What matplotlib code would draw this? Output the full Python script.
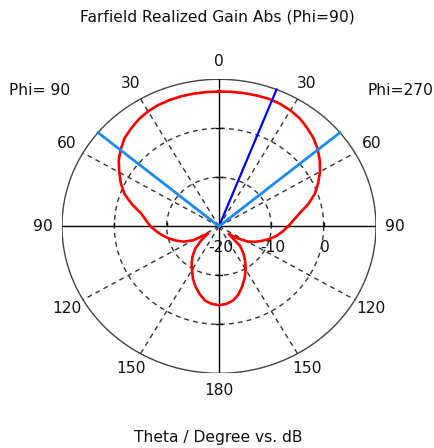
"""
Farfield realized gain cut (Phi=90 / Phi=270) drawn as a CST-style polar plot.
Output: out.png
"""

import numpy as np
import matplotlib
matplotlib.use("Agg")
import matplotlib.pyplot as plt

R_MIN = -20.0   # dB at the centre
R_MAX = 10.0    # dB at the outer circle
RINGS = [-10, 0]

# theta (deg) and gain (dB)
theta_deg = [0, 5, 10, 15, 20, 25, 30, 35, 40, 45, 50, 55, 60, 65, 70, 75, 80,
             85, 90, 95, 100, 105, 110, 115, 120, 125, 130, 135, 140, 145, 150,
             155, 160, 165, 170, 175, 180]
gain_phi270 = [7.5, 7.55, 7.6, 7.65, 7.7, 7.6, 7.3, 6.9, 6.2, 5.5, 4.6, 3.5, 2.3,
               0.9, -0.5, -2.3, -4.3, -5.7, -6.8, -7.8, -8.8, -10.0, -11.3, -12.5,
               -13.8, -15.8, -17.6, -14.3, -12.7, -11.3, -9.8, -8.4, -7.0, -5.6,
               -4.6, -4.1, -3.9]
gain_phi90 = [7.5, 7.5, 7.5, 7.5, 7.45, 7.35, 7.1, 6.7, 6.1, 5.5, 4.5, 3.4, 2.0,
              0.7, -0.8, -2.8, -4.9, -6.0, -6.9, -8.0, -9.1, -10.2, -11.4, -12.6,
              -14.3, -17.5, -15.6, -13.6, -12.2, -10.9, -9.7, -8.2, -6.9, -5.7,
              -4.6, -4.1, -3.9]

main_lobe_deg = 21.5        # Phi=270 side
beamwidth_deg = [-50.4, 50.4]  # 3 dB lines, negative = Phi=90 side

theta_labels = [0, 30, 60, 90, 120, 150, 180]


def to_xy(theta, gain, side=1):
    # side=+1 -> Phi=270 (right), side=-1 -> Phi=90 (left)
    r = np.clip(np.asarray(gain, dtype=float) - R_MIN, 0, None)
    t = np.radians(np.asarray(theta, dtype=float))
    return side * r * np.sin(t), r * np.cos(t)


fig = plt.figure(figsize=(4.34, 4.48), dpi=100)
ax = fig.add_axes([62 / 434, (448 - 373.3) / 448, 314 / 434, 294 / 448])
R = R_MAX - R_MIN
ax.set_xlim(-R, R)
ax.set_ylim(-R, R)
ax.axis("off")

# grid
phi = np.linspace(0, 2 * np.pi, 721)
ax.plot(R * np.cos(phi), R * np.sin(phi), color="#444444", lw=1.0, zorder=2)
for ring in RINGS:
    rr = ring - R_MIN
    ax.plot(rr * np.cos(phi), rr * np.sin(phi), color="#333333", lw=1.0,
            ls=(0, (3.5, 3)), zorder=1)
for t in [30, 60, 120, 150]:
    for side in (-1, 1):
        x, y = to_xy([t, t], [R_MIN, R_MAX], side)
        ax.plot(x, y, color="#333333", lw=1.0, ls=(0, (3.5, 3)), zorder=1)
ax.plot([0, 0], [-R, R], color="black", lw=1.0, zorder=2)
ax.plot([-R, R], [0, 0], color="black", lw=1.0, zorder=2)
for ring in RINGS:
    rr = ring - R_MIN
    for s in (-1, 1):
        ax.plot([s * rr, s * rr], [0, 0.7], color="black", lw=1.0, zorder=2)
        ax.plot([-0.6, 0.6], [s * rr, s * rr], color="black", lw=1.0, zorder=2)

# pattern
xl, yl = to_xy(theta_deg, gain_phi90, -1)
xr, yr = to_xy(theta_deg, gain_phi270, 1)
xs = np.concatenate([xr, xl[::-1]])
ys = np.concatenate([yr, yl[::-1]])
ax.plot(xs, ys, color="#ff0000", lw=1.9, zorder=3, solid_joinstyle="round")

# main lobe and 3 dB beamwidth
x, y = to_xy([main_lobe_deg, main_lobe_deg], [R_MIN, R_MAX])
ax.plot(x, y, color="#0000ff", lw=1.6, zorder=4)
for b in beamwidth_deg:
    x, y = to_xy([abs(b), abs(b)], [R_MIN, R_MAX], np.sign(b))
    ax.plot(x, y, color="#1a8cf0", lw=2.0, zorder=4)

# labels
font = dict(family="DejaVu Sans", fontsize=11.2, color="#111111")
for t in theta_labels:
    sides = (1,) if t in (0, 180) else (-1, 1)
    for side in sides:
        x, y = to_xy(t, R_MAX + R * 0.12, side)
        ax.text(x, y, str(t), ha="center", va="center", clip_on=False, **font)
for ring in [R_MIN] + RINGS:
    ax.text(ring - R_MIN + 0.3, -4.3, f"{ring:g}", ha="center", va="center",
            clip_on=False, **font)

fig.text(217 / 434, 1 - 17 / 448, "Farfield Realized Gain Abs (Phi=90)",
         ha="center", va="center", **font)
fig.text(40 / 434, 1 - 90 / 448, "Phi= 90", ha="center", va="center", **font)
fig.text(400 / 434, 1 - 90 / 448, "Phi=270", ha="center", va="center", **font)
fig.text(218 / 434, 1 - 437 / 448, "Theta / Degree vs. dB",
         ha="center", va="center", **font)

fig.savefig("out.png", dpi=100)
